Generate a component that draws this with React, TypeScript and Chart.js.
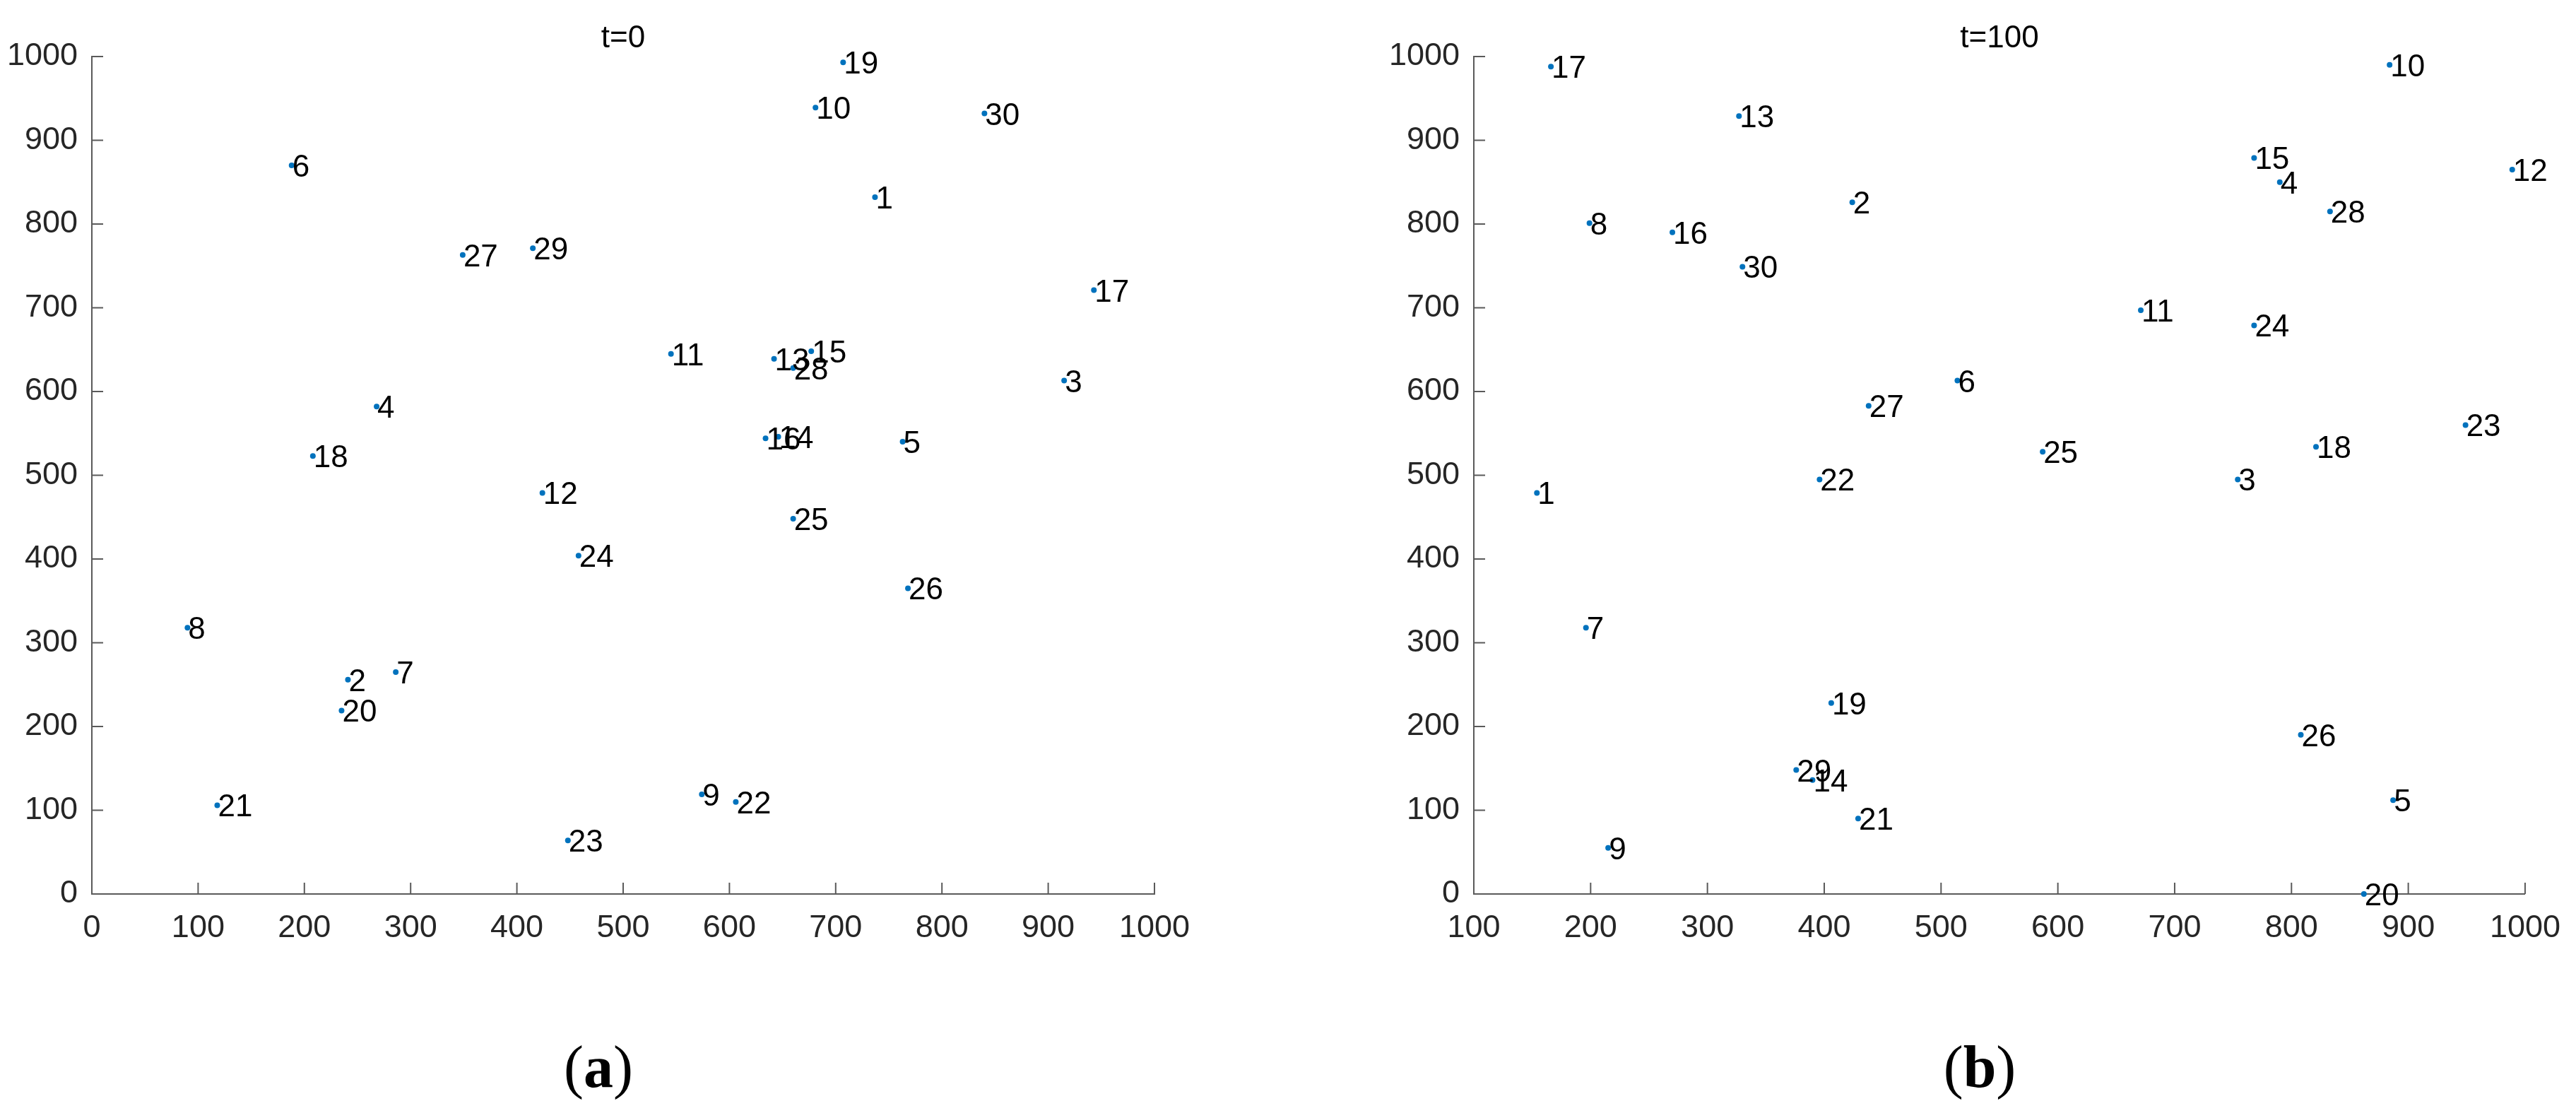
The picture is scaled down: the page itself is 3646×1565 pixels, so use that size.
import React, { useEffect, useRef } from "react";
import Chart from "chart.js/auto";

// ---- data ----
const pointIds = ["1","2","3","4","5","6","7","8","9","10","11","12","13","14","15","16","17","18","19","20","21","22","23","24","25","26","27","28","29","30"];

const t0X = [737, 241, 915, 268, 763, 188, 286, 90, 574, 681, 545, 424, 642, 646, 677, 634, 943, 208, 707, 235, 118, 606, 448, 458, 660, 768, 349, 660, 415, 840];
const t0Y = [832, 256, 613, 582, 540, 870, 265, 318, 119, 939, 645, 479, 639, 546, 648, 544, 721, 523, 993, 219, 106, 110, 64, 404, 448, 365, 763, 628, 771, 932];

const t100X = [154, 424, 754, 790, 887, 514, 196, 199, 215, 884, 671, 989, 327, 390, 768, 270, 166, 821, 406, 862, 429, 396, 949, 768, 587, 808, 438, 833, 376, 330];
const t100Y = [479, 826, 495, 850, 112, 613, 318, 801, 55, 990, 697, 865, 929, 136, 879, 790, 988, 534, 228, 0, 90, 495, 560, 679, 528, 190, 583, 815, 148, 749];

const xTicksA = [0, 100, 200, 300, 400, 500, 600, 700, 800, 900, 1000];
const xTicksB = [100, 200, 300, 400, 500, 600, 700, 800, 900, 1000];
const yTicks = [0, 100, 200, 300, 400, 500, 600, 700, 800, 900, 1000];

const titles = ["t=0", "t=100"];
const captions = ["a", "b"];

// ---- style ----
const SANS = "'Liberation Sans', Arial, Helvetica, sans-serif";
const AXIS_COLOR = "#5a5a5a";
const TICK_TEXT = "#262626";
const DOT_COLOR = "#0072BD";
const CANVAS_H = 1400;
const PLOT_TOP = 80;
const PLOT_BOTTOM = 1265;

const overlayPlugin = {
  id: "overlay",
  beforeDatasetsDraw(chart: any, _args: any, opts: any) {
    const ctx = chart.ctx;
    const xs = chart.scales.x;
    const ys = chart.scales.y;
    const area = chart.chartArea;
    ctx.save();
    ctx.strokeStyle = AXIS_COLOR;
    ctx.lineWidth = 2;
    ctx.beginPath();
    (opts.xTicks as number[]).forEach((v) => {
      const px = xs.getPixelForValue(v);
      if (Math.abs(px - area.left) < 2) return;
      ctx.moveTo(px, area.bottom);
      ctx.lineTo(px, area.bottom - 16);
    });
    (opts.yTicks as number[]).forEach((v) => {
      const py = ys.getPixelForValue(v);
      if (Math.abs(py - area.bottom) < 2) return;
      ctx.moveTo(area.left, py);
      ctx.lineTo(area.left + 16, py);
    });
    ctx.stroke();
    ctx.restore();
  },
  afterDatasetsDraw(chart: any, _args: any, opts: any) {
    const ctx = chart.ctx;
    const area = chart.chartArea;
    const meta = chart.getDatasetMeta(0);
    ctx.save();
    ctx.fillStyle = "#000";
    ctx.font = `44px ${SANS}`;
    ctx.textAlign = "left";
    ctx.textBaseline = "alphabetic";
    meta.data.forEach((el: any, i: number) => {
      ctx.fillText(opts.labels[i], el.x + 1, el.y + 16);
    });
    ctx.textAlign = "center";
    ctx.fillText(opts.title, (area.left + area.right) / 2, 67);
    ctx.restore();
  },
};

type PanelProps = {
  xs: number[];
  ys: number[];
  xTicks: number[];
  title: string;
  left: number;
  width: number;
  yAxisWidth: number;
  rightPad: number;
};

function ScatterPanel({ xs, ys, xTicks, title, left, width, yAxisWidth, rightPad }: PanelProps) {
  const ref = useRef<HTMLCanvasElement>(null);
  useEffect(() => {
    const canvas = ref.current;
    if (!canvas) return;
    const tickFont = { family: SANS, size: 45 };
    const chart = new Chart(canvas, {
      type: "scatter",
      data: {
        datasets: [
          {
            data: xs.map((x, i) => ({ x, y: ys[i] })),
            pointRadius: 4,
            pointHoverRadius: 4,
            pointBackgroundColor: DOT_COLOR,
            pointBorderColor: DOT_COLOR,
            pointBorderWidth: 0,
            showLine: false,
            clip: false as any,
          },
        ],
      },
      options: {
        responsive: false,
        animation: false,
        devicePixelRatio: 1,
        layout: { padding: { top: PLOT_TOP, left: 0, right: rightPad, bottom: 0 } },
        plugins: {
          legend: { display: false },
          tooltip: { enabled: false },
          title: { display: false },
          overlay: { labels: pointIds, title, xTicks, yTicks },
        } as any,
        scales: {
          x: {
            type: "linear",
            position: "bottom",
            min: xTicks[0],
            max: xTicks[xTicks.length - 1],
            afterBuildTicks: (s: any) => {
              s.ticks = xTicks.map((v) => ({ value: v }));
            },
            afterFit: (s: any) => {
              s.height = CANVAS_H - PLOT_BOTTOM;
            },
            grid: { display: false, drawTicks: false },
            border: { display: true, color: AXIS_COLOR, width: 2 },
            ticks: {
              font: tickFont,
              color: TICK_TEXT,
              padding: 22,
              maxRotation: 0,
              autoSkip: false,
              callback: (v: any) => String(v),
            },
          },
          y: {
            type: "linear",
            position: "left",
            min: yTicks[0],
            max: yTicks[yTicks.length - 1],
            afterBuildTicks: (s: any) => {
              s.ticks = yTicks.map((v) => ({ value: v }));
            },
            afterFit: (s: any) => {
              s.width = yAxisWidth;
            },
            grid: { display: false, drawTicks: false },
            border: { display: true, color: AXIS_COLOR, width: 2 },
            ticks: {
              font: tickFont,
              color: TICK_TEXT,
              padding: 20,
              autoSkip: false,
              callback: (v: any) => String(v),
            },
          },
        },
      },
      plugins: [overlayPlugin as any],
    });
    return () => chart.destroy();
  }, []);
  return (
    <canvas
      ref={ref}
      width={width}
      height={CANVAS_H}
      style={{ position: "absolute", left, top: 0, width, height: CANVAS_H }}
    />
  );
}

function Caption({ letter, centerX }: { letter: string; centerX: number }) {
  return (
    <div
      style={{
        position: "absolute",
        left: centerX - 150,
        top: 1468,
        width: 300,
        textAlign: "center",
        fontFamily: "'Liberation Serif', 'Times New Roman', serif",
        fontSize: 84,
        lineHeight: "84px",
        color: "#000",
      }}
    >
      (<b>{letter}</b>)
    </div>
  );
}

export default function App() {
  return (
    <div
      style={{
        position: "absolute",
        left: 0,
        top: 0,
        width: 3646,
        height: 1565,
        background: "#fff",
        overflow: "hidden",
      }}
    >
      <ScatterPanel xs={t0X} ys={t0Y} xTicks={xTicksA} title={titles[0]} left={0} width={1800} yAxisWidth={130} rightPad={166} />
      <ScatterPanel xs={t100X} ys={t100Y} xTicks={xTicksB} title={titles[1]} left={1900} width={1746} yAxisWidth={186} rightPad={59} />
      <Caption letter={captions[0]} centerX={847} />
      <Caption letter={captions[1]} centerX={2802} />
    </div>
  );
}
